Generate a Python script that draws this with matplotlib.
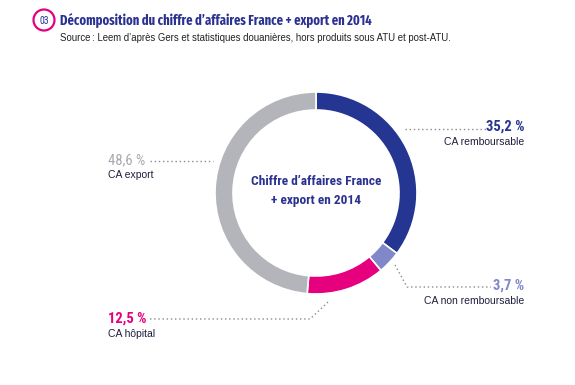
import matplotlib
matplotlib.use("Agg")
import matplotlib.pyplot as plt
from matplotlib.patches import Circle

# data
segments = ["CA remboursable", "CA non remboursable", "CA hôpital", "CA export"]
shares = [35.2, 3.7, 12.5, 48.6]
colors = ["#243592", "#8088c9", "#e6007e", "#b4b5ba"]
title = "Décomposition du chiffre d\u2019affaires France + export en 2014"
source = "Source\u202f: Leem d\u2019après Gers et statistiques douanières, hors produits sous ATU et post-ATU."
center_txt = "Chiffre d\u2019affaires France\n+ export en 2014"

W, H = 575, 385
navy = "#2b3190"
dotc = "#8a8a8a"
cond = ['Roboto Condensed', 'DejaVu Sans']
xcond = ['Fira Sans Extra Condensed', 'Roboto Condensed', 'DejaVu Sans']

plt.rcParams['font.family'] = ['Liberation Sans', 'DejaVu Sans']

fig = plt.figure(figsize=(W / 100, H / 100), dpi=100)
ax = fig.add_axes([0, 0, 1, 1])

def Y(y):
    # pixel rows from top -> data coords
    return H - y

ax.pie(shares, colors=colors, startangle=90, counterclock=False,
       center=(316, Y(193)), radius=101, frame=True,
       wedgeprops=dict(width=18, edgecolor="white", linewidth=1.2))
ax.set_xlim(0, W)
ax.set_ylim(0, H)
ax.set_aspect("equal")
ax.axis("off")

# header
ax.add_patch(Circle((44, Y(20)), 10.5, fill=False, edgecolor="#e6007e", linewidth=1.6))
ax.text(44, Y(20.5), "03", ha="center", va="center", fontsize=7, color=navy, family=cond)
ax.text(60, Y(20), title, ha="left", va="center", fontsize=9.8, fontweight="bold",
        color=navy, family=xcond)
ax.text(60, Y(38), source, ha="left", va="center", fontsize=6.9, color="#222222")

# centre text
ax.text(316, Y(191), center_txt, ha="center", va="center", fontsize=9.6,
        fontweight="bold", color=navy, linespacing=1.6, family=cond)

def pct(v):
    return ("%.1f %%" % v).replace(".", ",")

# labels: value, name, text anchor, leader line points
lab = {
    0: dict(x=524, y=127, ha="right", line=[(405, 129), (486, 129)]),
    1: dict(x=524, y=286, ha="right", line=[(395, 265), (407, 287), (491, 287)]),
    2: dict(x=108, y=319, ha="left", line=[(150, 319), (310, 319), (328, 302)]),
    3: dict(x=108, y=160, ha="left", line=[(150, 161), (213, 161)]),
}
for i, d in lab.items():
    ax.text(d["x"], Y(d["y"]), pct(shares[i]), ha=d["ha"], va="center",
            fontsize=10.5, fontweight="bold" if i < 3 else "normal",
            color=colors[i] if i < 3 else "#a8a9ae", family=cond)
    ax.text(d["x"], Y(d["y"] + 15), segments[i], ha=d["ha"], va="center",
            fontsize=7.5, color="#1e1e3c")
    xs = [p[0] for p in d["line"]]
    ys = [Y(p[1]) for p in d["line"]]
    ax.plot(xs, ys, linestyle=(0, (1, 2)), color=dotc, linewidth=1)

fig.savefig("out.png", dpi=100)
